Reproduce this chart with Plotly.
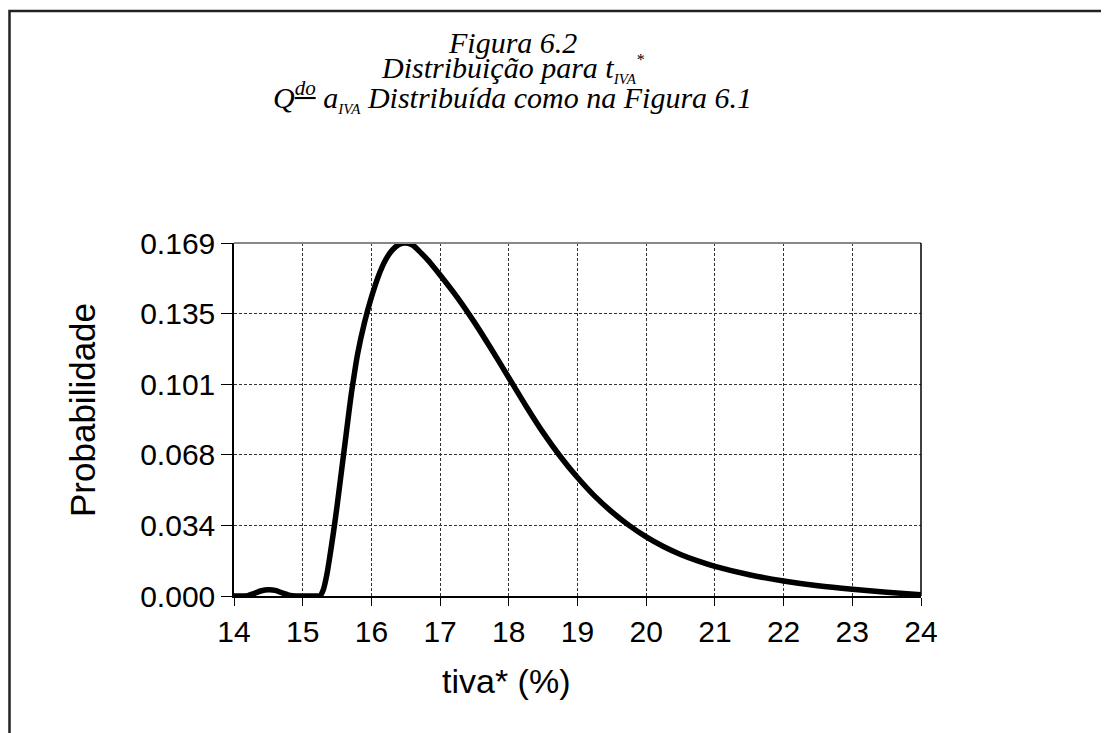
import plotly.graph_objects as go

# ------------------------------------------------------------------
# Data
# ------------------------------------------------------------------
tiva = [
    14.0, 14.1, 14.2, 14.3, 14.4, 14.5, 14.6, 14.7, 14.8, 14.9,
    15.0, 15.1, 15.2, 15.25, 15.3, 15.35, 15.4, 15.45, 15.5, 15.55,
    15.6, 15.65, 15.7, 15.75, 15.8, 15.9, 16.0, 16.1, 16.2, 16.3,
    16.4, 16.5, 16.6, 16.7, 16.8, 16.9, 17.0, 17.25, 17.5, 17.75,
    18.0, 18.25, 18.5, 18.75, 19.0, 19.25, 19.5, 19.75, 20.0, 20.25,
    20.5, 20.75, 21.0, 21.5, 22.0, 22.5, 23.0, 23.5, 24.0,
]
prob = [
    0.0, 0.0, 0.0002, 0.0013, 0.0025, 0.0030, 0.0027, 0.0015, 0.0004, 0.0,
    0.0, 0.0, 0.0, 0.0, 0.003, 0.010, 0.020, 0.031, 0.043, 0.056,
    0.069, 0.082, 0.095, 0.106, 0.116, 0.131, 0.143, 0.153, 0.1605, 0.1655,
    0.1683, 0.169, 0.1680, 0.1650, 0.1616, 0.1578, 0.1537, 0.1430, 0.1310, 0.1180,
    0.1045, 0.0910, 0.0782, 0.0668, 0.0567, 0.0478, 0.0403, 0.0338, 0.0283, 0.0237,
    0.0199, 0.0168, 0.0142, 0.0102, 0.0072, 0.0049, 0.0032, 0.0018, 0.0006,
]

x_ticks = list(range(14, 25))
y_ticks = [0.0, 0.0338, 0.0676, 0.1014, 0.1352, 0.169]
y_tick_labels = ["0.000", "0.034", "0.068", "0.101", "0.135", "0.169"]

title_lines = [
    "Figura 6.2",
    "Distribuição para t<sub><span style='font-size:15px'>IVA</span></sub>"
    "<sup><span style='font-size:16px'>*</span></sup>",
    "Q<sup><u>do</u></sup> a<sub><span style='font-size:15px'>IVA</span></sub>"
    " Distribuída como na Figura 6.1",
]

# ------------------------------------------------------------------
# Geometry: page pixels of the 1109x733 window; the page body adds
# an 8px margin, so the figure itself is 8px smaller each way.
# ------------------------------------------------------------------
OFF = 8
W, H = 1109 - OFF, 733 - OFF
L, R, T, B = 234 - OFF, 921 - OFF, 243 - OFF, 596 - OFF


def px_x(p):
    return (p - OFF - L) / (R - L)


def px_y(p):
    return (B - (p - OFF)) / (B - T)


SANS = "Liberation Sans, Arial, sans-serif"
SERIF = "Liberation Serif, Times New Roman, serif"

fig = go.Figure()

fig.add_trace(
    go.Scatter(
        x=tiva,
        y=prob,
        mode="lines",
        line=dict(color="black", width=5.5, shape="spline", smoothing=0.8),
        showlegend=False,
    )
)

axis_common = dict(
    showgrid=True,
    gridcolor="#333333",
    gridwidth=1,
    griddash="3px,2px",
    zeroline=False,
    ticks="outside",
    tickcolor="black",
    tickwidth=1,
    tickfont=dict(family=SANS, size=30, color="black"),
    showline=True,
    linecolor="black",
    linewidth=1.5,
)

fig.update_layout(
    width=W,
    height=H,
    margin=dict(l=L, r=W - R, t=T, b=H - B, pad=0),
    plot_bgcolor="white",
    paper_bgcolor="white",
    xaxis=dict(
        range=[14, 24],
        tickmode="array",
        tickvals=x_ticks,
        ticklen=8,
        **axis_common,
    ),
    yaxis=dict(
        range=[0, 0.169],
        tickmode="array",
        tickvals=y_ticks,
        ticktext=y_tick_labels,
        ticklen=11,
        **axis_common,
    ),
)

# top (gray) and right (black) frame lines of the plot area
fig.add_shape(type="line", xref="paper", yref="paper", x0=0, x1=1, y0=1, y1=1,
              line=dict(color="#888888", width=2))
fig.add_shape(type="line", xref="paper", yref="paper", x0=1, x1=1, y0=0, y1=1,
              line=dict(color="black", width=1.5))

# outer page border (runs off the right and bottom edges)
fig.add_shape(type="rect", xref="paper", yref="paper",
              x0=px_x(9.5), x1=px_x(1109 + 20), y0=px_y(733 + 20), y1=px_y(11),
              line=dict(color="#222222", width=2.5), layer="below")

# title, one annotation per line to keep the tight line spacing
title_y = [42, 69, 96]
for text, yy in zip(title_lines, title_y):
    fig.add_annotation(
        text=text, xref="paper", yref="paper",
        x=px_x(512), y=px_y(yy), xanchor="center", yanchor="middle",
        showarrow=False,
        font=dict(family=SERIF, size=30, color="black", style="italic"),
    )

# axis titles
fig.add_annotation(
    text="tiva* (%)", xref="paper", yref="paper",
    x=px_x(506), y=px_y(681), xanchor="center", yanchor="middle",
    showarrow=False, font=dict(family=SANS, size=34, color="black"),
)
fig.add_annotation(
    text="Probabilidade", xref="paper", yref="paper",
    x=px_x(82), y=px_y(410), xanchor="center", yanchor="middle",
    textangle=-90, showarrow=False,
    font=dict(family=SANS, size=35, color="black"),
)

fig.write_html("out.html")
